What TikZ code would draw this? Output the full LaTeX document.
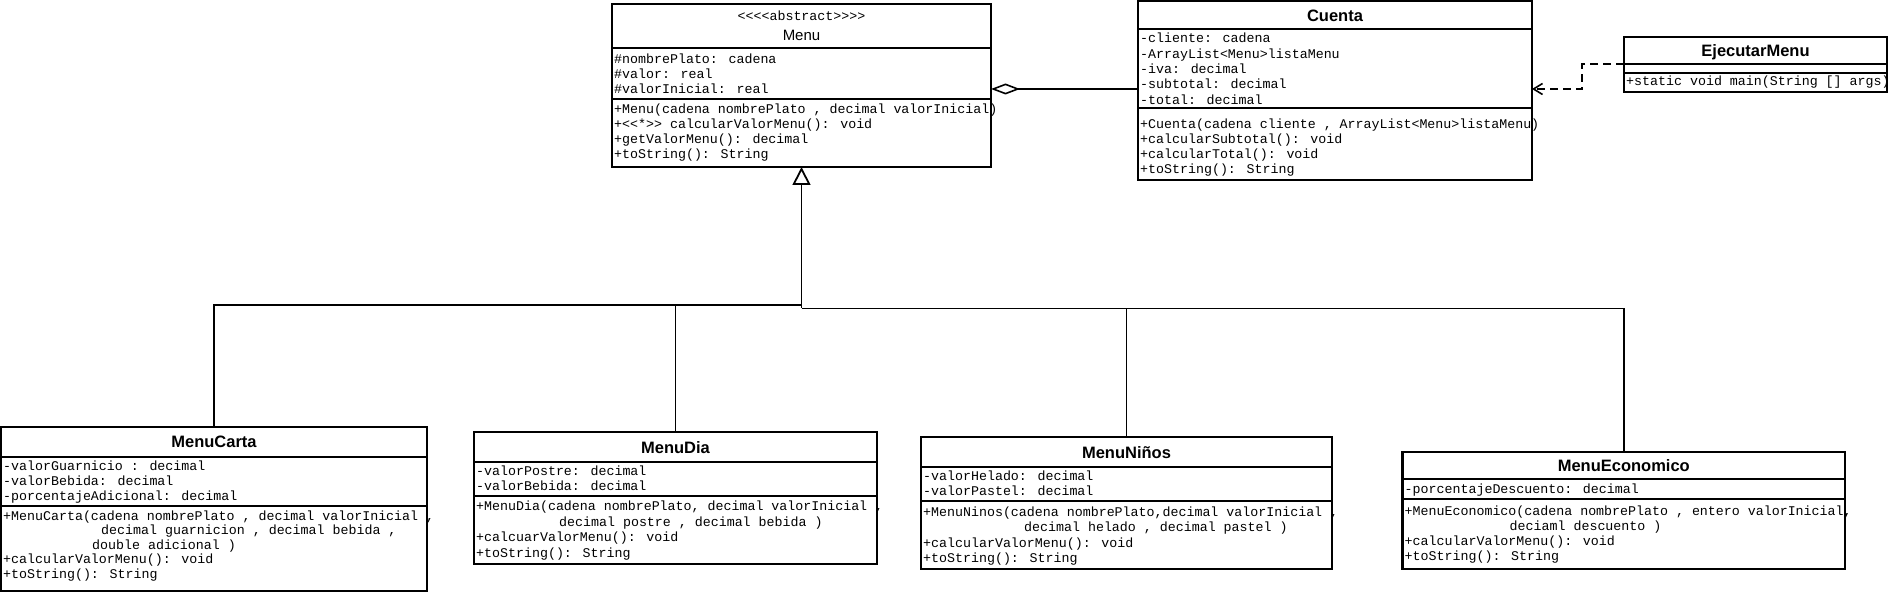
\documentclass[tikz,border=0pt]{standalone}
\usepackage{fontspec}
\newfontfamily\umlmono{Liberation Mono}
\newfontfamily\umlsans{Liberation Sans}
\usetikzlibrary{arrows.meta}

\begin{document}
\begin{tikzpicture}[
        x=1pt, y=-1pt,
        classbox/.style={draw, line width=2.2pt, anchor=north west, inner sep=0pt, outer sep=0pt},
        sep/.style={line width=2pt},
        member/.style={font=\umlmono\fontsize{13.3}{15}\selectfont, anchor=base west, inner sep=0pt},
        classname/.style={font=\umlsans\bfseries\fontsize{16.5}{18}\selectfont, anchor=base, inner sep=0pt},
        generalization/.style={line width=1.8pt},
        aggregation/.style={line width=1.6pt, -{Diamond[open, length=29pt, width=11pt]}},
        dependency/.style={line width=1.6pt, dash pattern=on 8pt off 5pt, -{Straight Barb[length=9pt, width=11pt]}}]

        \useasboundingbox (0,0) rectangle (1889,593);

        % Menu
        \node[classbox, minimum width=379, minimum height=163] (menu) at (612,4) {};
        \draw[sep] (612,47.7) -- (991,47.7);
        \draw[sep] (612,99) -- (991,99);
        \node[member, anchor=base] (menu-st) at (801.5,20.5) {<<<<abstract>>>>};
        \node[classname, font=\umlsans\fontsize{15}{18}\selectfont] (menu-name) at (801.5,40.4) {Menu};
        \foreach \m [count=\i] in {\#nombrePlato: cadena, \#valor: real, \#valorInicial: real}
            \node[member] (menu-a\i) at (614,{63.3+15*(\i-1)}) {\m};
        \foreach \m [count=\i] in {{+Menu(cadena nombrePlato , decimal valorInicial)},
                {+<<*>> calcularValorMenu(): void}, {+getValorMenu(): decimal}, {+toString(): String}}
            \node[member] (menu-m\i) at (614,{114+15*(\i-1)}) {\m};

        % Cuenta
        \node[classbox, minimum width=394, minimum height=179] (cuenta) at (1138,1) {};
        \draw[sep] (1138,29.3) -- (1532,29.3);
        \draw[sep] (1138,108.3) -- (1532,108.3);
        \node[classname] (cuenta-name) at (1335,21.5) {Cuenta};
        \foreach \m [count=\i] in {-cliente: cadena, -ArrayList<Menu>listaMenu, -iva: decimal,
                -subtotal: decimal, -total: decimal}
            \node[member] (cuenta-a\i) at (1140,{43+15.3*(\i-1)}) {\m};
        \foreach \m [count=\i] in {{+Cuenta(cadena cliente , ArrayList<Menu>listaMenu)},
                {+calcularSubtotal(): void}, {+calcularTotal(): void}, {+toString(): String}}
            \node[member] (cuenta-m\i) at (1140,{128.3+15.2*(\i-1)}) {\m};

        % EjecutarMenu
        \node[classbox, minimum width=263, minimum height=55] (ejec) at (1624,36.7) {};
        \draw[sep] (1624,64) -- (1887,64);
        \draw[sep] (1624,72.7) -- (1887,72.7);
        \node[classname] (ejec-name) at (1755.5,56.3) {EjecutarMenu};
        \node[member] (ejec-m1) at (1626,85.7) {+static void main(String [] args)};

        % MenuCarta
        \node[classbox, minimum width=426, minimum height=164.5] (carta) at (1,426.7) {};
        \draw[sep] (1,456.7) -- (427,456.7);
        \draw[sep] (1,505.5) -- (427,505.5);
        \node[classname] (carta-name) at (214,447.7) {MenuCarta};
        \foreach \m [count=\i] in {-valorGuarnicio : decimal, -valorBebida: decimal,
                -porcentajeAdicional: decimal}
            \node[member] (carta-a\i) at (3,{470.5+15*(\i-1)}) {\m};
        \foreach \m [count=\i] in {{+MenuCarta(cadena nombrePlato , decimal valorInicial ,},
                {\hspace*{98pt}decimal guarnicion , decimal bebida ,},
                {\hspace*{89pt}double adicional )},
                {+calcularValorMenu(): void}, {+toString(): String}}
            \node[member] (carta-m\i) at (3,{520+14.6*(\i-1)}) {\m};

        % MenuDia
        \node[classbox, minimum width=403, minimum height=132] (dia) at (474,432.3) {};
        \draw[sep] (474,462.3) -- (877,462.3);
        \draw[sep] (474,495.7) -- (877,495.7);
        \node[classname] (dia-name) at (675.5,453.3) {MenuDia};
        \foreach \m [count=\i] in {-valorPostre: decimal, -valorBebida: decimal}
            \node[member] (dia-a\i) at (476,{475+15*(\i-1)}) {\m};
        \foreach \m [count=\i] in {{+MenuDia(cadena nombrePlato, decimal valorInicial ,},
                {\hspace*{83pt}decimal postre , decimal bebida )},
                {+calcuarValorMenu(): void}, {+toString(): String}}
            \node[member] (dia-m\i) at (476,{510.7+15.5*(\i-1)}) {\m};

        % MenuNinos
        \node[classbox, minimum width=411, minimum height=132] (ninos) at (921,437.3) {};
        \draw[sep] (921,466.7) -- (1332,466.7);
        \draw[sep] (921,501) -- (1332,501);
        \node[classname] (ninos-name) at (1126.5,458) {MenuNiños};
        \foreach \m [count=\i] in {-valorHelado: decimal, -valorPastel: decimal}
            \node[member] (ninos-a\i) at (923,{480.7+15*(\i-1)}) {\m};
        \foreach \m [count=\i] in {{+MenuNinos(cadena nombrePlato,decimal valorInicial ,},
                {\hspace*{101pt}decimal helado , decimal pastel )},
                {+calcularValorMenu(): void}, {+toString(): String}}
            \node[member] (ninos-m\i) at (923,{516.7+15.2*(\i-1)}) {\m};

        % MenuEconomico
        \node[classbox, minimum width=442.5, minimum height=116.5] (econ) at (1402.5,452.3) {};
        \draw[sep] (1402.5,479.3) -- (1845,479.3);
        \draw[sep] (1402.5,499.3) -- (1845,499.3);
        \node[classname] (econ-name) at (1623.75,471.8) {MenuEconomico};
        \node[member] (econ-a1) at (1404.5,493.3) {-porcentajeDescuento: decimal};
        \foreach \m [count=\i] in {{+MenuEconomico(cadena nombrePlato , entero valorInicial,},
                {\hspace*{105pt}deciaml descuento )},
                {+calcularValorMenu(): void}, {+toString(): String}}
            \node[member] (econ-m\i) at (1404.5,{515.7+15*(\i-1)}) {\m};

        % connectors
        \coordinate (jl) at (801.5,305);
        \coordinate (jr) at (801.5,308.5);
        \draw[generalization] (carta.north) |- (jl);
        \draw[generalization] (dia.north) |- (jl);
        \draw[generalization] (ninos.north) |- (jr);
        \draw[generalization] (econ.north) |- (jr);
        \draw[generalization, -{Triangle[open, length=18pt, width=18pt]}] (jr) -- (menu.south);

        \coordinate (aggm) at (991,89);
        \draw[aggregation] (cuenta.west |- aggm) -- (aggm);

        \coordinate (depbend) at (1582,89);
        \draw[dependency] (ejec.west) -| (depbend) -- (cuenta.east |- depbend);

    \end{tikzpicture}
\end{document}
